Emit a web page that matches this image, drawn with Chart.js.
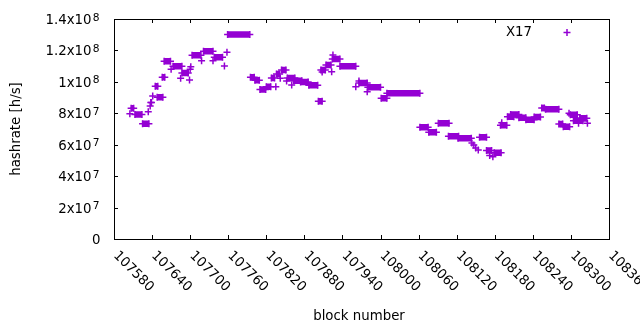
<!DOCTYPE html>
<html>
<head>
<meta charset="utf-8">
<script src="https://cdn.jsdelivr.net/npm/chart.js@4/dist/chart.umd.min.js"></script>
<style>
  html, body { margin: 0; padding: 0; background: #fff; }
  #wrap { width: 640px; height: 330px; }
</style>
</head>
<body>
<div id="wrap"><canvas id="hashChart" width="640" height="330"></canvas></div>
<script>
// runs of blocks with the same hashrate (single markers have start == end)
const runStart = [107605, 107607, 107613, 107625, 107634, 107637, 107638, 107641, 107645, 107648,
  107656, 107659, 107670, 107673, 107685, 107687, 107699, 107700, 107701, 107703,
  107718, 107721, 107736, 107738, 107754, 107758, 107759, 107795, 107802, 107810,
  107820, 107828, 107835, 107836, 107842, 107844, 107852, 107853, 107860, 107863,
  107874, 107887, 107902, 107906, 107908, 107914, 107923, 107924, 107925, 107936,
  107961, 107966, 107966, 107979, 107980, 108001, 108010, 108062, 108076, 108091,
  108107, 108122, 108144, 108147, 108150, 108154, 108156, 108167, 108172, 108177,
  108179, 108189, 108191, 108200, 108205, 108218, 108229, 108242, 108254, 108260,
  108281, 108288, 108297, 108299, 108304, 108312, 108314, 108326];
const runEnd = [107605, 107611, 107624, 107635, 107634, 107637, 107639, 107641, 107649, 107657,
  107660, 107669, 107670, 107687, 107685, 107697, 107699, 107700, 107701, 107717,
  107718, 107736, 107736, 107751, 107754, 107758, 107794, 107801, 107809, 107819,
  107827, 107833, 107835, 107841, 107842, 107851, 107852, 107865, 107860, 107876,
  107886, 107901, 107908, 107913, 107908, 107922, 107923, 107936, 107925, 107961,
  107961, 107966, 107979, 107979, 108000, 108010, 108062, 108075, 108088, 108108,
  108123, 108143, 108144, 108147, 108150, 108154, 108167, 108175, 108172, 108177,
  108190, 108199, 108191, 108210, 108218, 108229, 108242, 108252, 108258, 108281,
  108287, 108298, 108297, 108310, 108319, 108312, 108325, 108326];
const runValue = [79.7e6, 83.2e6, 79.2e6, 73.4e6, 81.0e6, 84.6e6, 86.9e6, 91.0e6, 97.2e6, 90.2e6,
  102.9e6, 113.1e6, 108.0e6, 109.9e6, 102.3e6, 105.6e6, 101.2e6, 108.0e6, 109.6e6, 116.9e6,
  113.5e6, 119.4e6, 113.5e6, 115.6e6, 110.1e6, 118.8e6, 130.1e6, 102.9e6, 101.0e6, 95.1e6,
  96.9e6, 102.5e6, 96.9e6, 105.0e6, 102.3e6, 107.5e6, 100.5e6, 102.5e6, 98.0e6, 100.7e6,
  99.9e6, 97.8e6, 87.6e6, 107.5e6, 106.3e6, 110.7e6, 106.5e6, 114.5e6, 117.1e6, 109.9e6,
  96.9e6, 100.5e6, 99.3e6, 93.7e6, 96.5e6, 89.5e6, 92.7e6, 71.1e6, 67.9e6, 73.6e6,
  65.4e6, 64.1e6, 61.1e6, 59.8e6, 57.9e6, 56.6e6, 64.7e6, 56.3e6, 53.1e6, 52.4e6,
  54.9e6, 72.4e6, 74.0e6, 77.8e6, 79.2e6, 77.2e6, 75.9e6, 77.6e6, 83.4e6, 82.5e6,
  73.2e6, 71.5e6, 80.0e6, 79.1e6, 75.3e6, 73.6e6, 76.8e6, 73.6e6];

// axes
const xTicks = [107580, 107640, 107700, 107760, 107820, 107880, 107940, 108000,
  108060, 108120, 108180, 108240, 108300, 108360];
const yTicks = [0, 2e7, 4e7, 6e7, 8e7, 1e8, 1.2e8, 1.4e8];
const yTickBase = ['0', '2x10', '4x10', '6x10', '8x10', '1x10', '1.2x10', '1.4x10'];
const yTickPower = ['', '7', '7', '7', '7', '8', '8', '8'];

const PURPLE = '#9400d3';
const FONT = '"DejaVu Sans", sans-serif';

// each run becomes a short segment, broken by a null
const hashData = [];
runStart.forEach((s, i) => {
    const e = runEnd[i];
    hashData.push({ x: s, y: runValue[i] });
    if (e > s) hashData.push({ x: e, y: runValue[i] });
    hashData.push({ x: e, y: null });
});

const gnuplotFrame = {
    id: 'gnuplotFrame',
    afterDatasetsDraw(chart) {
        const { ctx, chartArea: a, scales: { x, y } } = chart;
        ctx.save();
        ctx.strokeStyle = '#000';
        ctx.lineWidth = 1;
        ctx.beginPath();
        xTicks.forEach(v => {
            const px = Math.round(x.getPixelForValue(v)) + 0.5;
            ctx.moveTo(px, a.bottom); ctx.lineTo(px, a.bottom - 4);
            ctx.moveTo(px, a.top); ctx.lineTo(px, a.top + 4);
        });
        yTicks.forEach(v => {
            const py = Math.round(y.getPixelForValue(v)) + 0.5;
            ctx.moveTo(a.left, py); ctx.lineTo(a.left + 4, py);
            ctx.moveTo(a.right, py); ctx.lineTo(a.right - 4, py);
        });
        ctx.stroke();
        ctx.strokeRect(a.left + 0.5, a.top + 0.5, a.right - a.left, a.bottom - a.top);

        ctx.fillStyle = '#000';
        // y tick labels with superscript power
        yTicks.forEach((v, i) => {
            const py = y.getPixelForValue(v);
            ctx.textBaseline = 'alphabetic';
            if (yTickPower[i]) {
                ctx.font = '13.33px ' + FONT;
                ctx.textAlign = 'right';
                ctx.fillText(yTickBase[i], 91.5, py + 5);
                ctx.font = '10.67px ' + FONT;
                ctx.textAlign = 'left';
                ctx.fillText(yTickPower[i], 92.8, py + 1.5);
            } else {
                ctx.font = '13.33px ' + FONT;
                ctx.textAlign = 'right';
                ctx.fillText(yTickBase[i], 100.5, py + 5);
            }
        });
        // x tick labels, rotated -45 like gnuplot
        ctx.font = '13.33px ' + FONT;
        ctx.textAlign = 'left';
        xTicks.forEach(v => {
            const px = x.getPixelForValue(v);
            ctx.save();
            ctx.translate(px - 1, 256);
            ctx.rotate(Math.PI / 4);
            ctx.fillText(String(v), 0, 0);
            ctx.restore();
        });
        // axis titles
        ctx.textAlign = 'center';
        ctx.fillText('block number', 359, 319.5);
        ctx.save();
        ctx.translate(19.5, 129);
        ctx.rotate(-Math.PI / 2);
        ctx.fillText('hashrate [h/s]', 0, 0);
        ctx.restore();
        // key
        ctx.textAlign = 'right';
        ctx.textBaseline = 'middle';
        ctx.fillText('X17', 532, 32.5);
        ctx.strokeStyle = PURPLE;
        ctx.lineWidth = 1.5;
        Chart.helpers.drawPoint(ctx, { pointStyle: 'cross', radius: 3.5, rotation: 0, borderWidth: 1.5 }, 567, 32.5);
        ctx.restore();
    }
};

new Chart(document.getElementById('hashChart'), {
    type: 'line',
    data: {
        datasets: [{
            label: 'X17',
            data: hashData,
            borderColor: PURPLE,
            backgroundColor: PURPLE,
            borderWidth: 6.5,
            borderCapStyle: 'butt',
            spanGaps: false,
            fill: false,
            tension: 0,
            pointStyle: 'cross',
            pointRadius: 3.5,
            pointBorderWidth: 1.5,
            pointBorderColor: PURPLE
        }]
    },
    options: {
        responsive: false,
        animation: false,
        layout: { padding: { left: 114, right: 31, top: 19, bottom: 91 } },
        plugins: { legend: { display: false }, tooltip: { enabled: false } },
        scales: {
            x: { type: 'linear', min: 107580, max: 108360, display: false },
            y: { min: 0, max: 1.4e8, display: false }
        }
    },
    plugins: [gnuplotFrame]
});
</script>
</body>
</html>
